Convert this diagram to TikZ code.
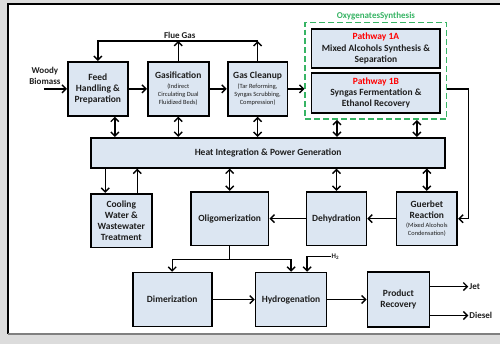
\documentclass[tikz,border=0pt]{standalone}
\usepackage{fontspec}
\setmainfont{Carlito}
\usepackage{xcolor}
\usetikzlibrary{arrows.meta,fit}

\definecolor{boxfill}{RGB}{220,230,242}
\definecolor{boxtext}{RGB}{30,30,30}
\definecolor{oxgreen}{RGB}{55,180,100}
\definecolor{panelgray}{RGB}{220,220,220}
\newcommand{\subtxt}[1]{{\fontsize{6.4}{7.5}\selectfont\mdseries #1}}

\begin{document}
\begin{tikzpicture}[x=1pt,y=-1pt,
    blk/.style={draw=black, line width=1.7pt, fill=boxfill, text=boxtext, align=center, inner sep=1pt, font=\bfseries\fontsize{9.5}{11.2}\selectfont},
    arr/.style={line width=1.4pt, -{Straight Barb[length=4pt,width=8pt]}},
    dbl/.style={line width=1.4pt, {Straight Barb[length=4pt,width=8pt]}-{Straight Barb[length=4pt,width=8pt]}},
    lbl/.style={text=boxtext, inner sep=1pt, font=\bfseries\fontsize{9}{10.5}\selectfont}]
                \fill[panelgray] (0,0) rectangle (501,345);
                \fill[white] (8,4) rectangle (501,334);
                \draw[line width=1.2pt] (8,334) -- (8,4) -- (501,4);
                \draw[gray, line width=1.5pt] (8,334.5) -- (501,334.5);

                % top row
                \node[blk, minimum width=60, minimum height=54] (feed) at (98,89) {Feed\\Handling \&\\Preparation};
                \node[blk, minimum width=61, minimum height=54] (gasif) at (178.5,89) {Gasification\\[-2pt]\subtxt{(Indirect}\\[-3pt]\subtxt{Circulating Dual}\\[-3pt]\subtxt{Fluidized Beds)}};
                \node[blk, minimum width=60, minimum height=54] (cleanup) at (258,89) {Gas Cleanup\\[-2pt]\subtxt{(Tar Reforming,}\\[-3pt]\subtxt{Syngas Scrubbing,}\\[-3pt]\subtxt{Compression)}};
                \node[blk, minimum width=129, minimum height=39] (pw1a) at (376.5,48.5) {\textcolor{red}{Pathway 1A}\\Mixed Alcohols Synthesis \&\\Separation};
                \node[blk, minimum width=129, minimum height=40] (pw1b) at (376.5,93) {\textcolor{red}{Pathway 1B}\\Syngas Fermentation \&\\Ethanol Recovery};
                \node[draw=oxgreen, line width=1.5pt, dash pattern=on 6pt off 3pt, inner sep=5.5pt, fit=(pw1a)(pw1b)] (oxy) {};
                \node[anchor=south, text=oxgreen, inner sep=1pt, font=\bfseries\fontsize{9}{10}\selectfont] (oxytitle) at ([yshift=1pt]oxy.north) {OxygenatesSynthesis};

                % middle rows
                \node[blk, minimum width=355, minimum height=30] (heat) at (268.5,153) {Heat Integration \& Power Generation};
                \node[blk, minimum width=61, minimum height=54] (cool) at (121.5,221) {Cooling\\Water \&\\Wastewater\\Treatment};
                \node[blk, minimum width=78, minimum height=54] (oligo) at (230,219) {Oligomerization};
                \node[blk, minimum width=60, minimum height=54] (dehyd) at (337,219) {Dehydration};
                \node[blk, minimum width=61, minimum height=54] (guerbet) at (427.5,219) {Guerbet\\Reaction\\[-2pt]\subtxt{(Mixed Alcohols}\\[-3pt]\subtxt{Condensation)}};

                % bottom row
                \node[blk, minimum width=79, minimum height=54] (dimer) at (172.5,300) {Dimerization};
                \node[blk, minimum width=71, minimum height=54] (hydro) at (291.5,300) {Hydrogenation};
                \node[blk, minimum width=62, minimum height=55] (prod) at (399,300) {Product\\Recovery};

                % labels
                \node[lbl, align=center] (biomass) at (45,76) {Woody\\Biomass};
                \coordinate (bin) at (44,89);
                \node[lbl] (flue) at (180,35) {Flue Gas};
                \coordinate (fluebar) at (180,41);
                \node[lbl, anchor=west, font=\bfseries\fontsize{7}{8}\selectfont] (h2) at (331,257) {H\textsubscript{2}};
                \node[lbl, anchor=west] (jet) at (469,287) {Jet};
                \node[lbl, anchor=west] (diesel) at (469,316) {Diesel};

                % connectors
                \draw[arr] (bin) -- (feed.west);
                \draw[arr] (feed) -- (gasif);
                \draw[arr] (gasif) -- (cleanup);
                \draw[arr] (cleanup.east) -- (cleanup.east -| oxy.west);
                \draw[arr] (cleanup.east -| oxy.east) -- ++(21,0) |- (guerbet.east);
                \draw[arr] (gasif.north) -- (gasif.north |- fluebar);
                \draw[arr] (cleanup.north) -- (cleanup.north |- fluebar);
                \draw[arr] (cleanup.north |- fluebar) -| (feed.north);
                \foreach \n/\dx in {feed/17, gasif/0, cleanup/0, oxy/-39, oxy/41}
                    \draw[dbl] ([xshift=\dx pt]\n.south) coordinate (t) -- (t |- heat.north);
                \foreach \n in {oligo, dehyd, guerbet}
                    \draw[dbl] (heat.south -| \n.north) -- (\n.north);
                \path ([xshift=-16pt]cool.north) coordinate (c1) ([xshift=16pt]cool.north) coordinate (c2);
                \draw[arr] (c1 |- heat.south) -- (c1);
                \draw[arr] (c2) -- (c2 |- heat.south);
                \draw[arr] (guerbet) -- (dehyd);
                \draw[arr] (dehyd) -- (oligo);
                \draw[line width=1.4pt] (oligo.south) -- ++(0,13) coordinate (split);
                \draw[arr] (split) -| (dimer.north);
                \draw[arr] (split) -| (hydro.north);
                \draw[arr] (h2.west) -| ([xshift=16pt]hydro.north);
                \draw[arr] (dimer) -- (hydro);
                \draw[arr] (hydro) -- (prod);
                \draw[arr] (prod.east |- jet.west) -- (jet.west);
                \draw[arr] (prod.east |- diesel.west) -- (diesel.west);
            \end{tikzpicture}
\end{document}
